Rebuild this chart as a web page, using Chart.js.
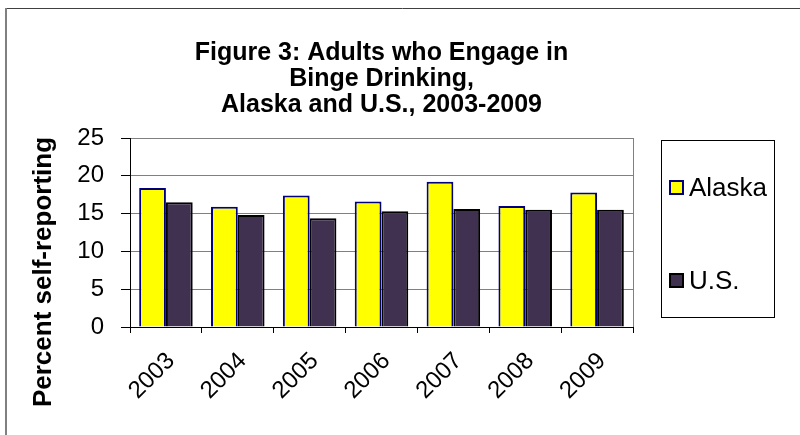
<!DOCTYPE html>
<html>
<head>
<meta charset="utf-8">
<script src="https://cdn.jsdelivr.net/npm/chart.js@4"></script>
<style>
  html, body { margin: 0; padding: 0; background: #fff; }
  #wrap { width: 800px; height: 435px; position: relative; }
</style>
</head>
<body>
<div id="wrap"><canvas id="chart"></canvas></div>
<script>
const years = ['2003', '2004', '2005', '2006', '2007', '2008', '2009'];
const alaska = [18.4, 15.9, 17.4, 16.6, 19.2, 16.0, 17.8];
const us = [16.5, 14.8, 14.4, 15.3, 15.6, 15.5, 15.5];
const yTicks = [0, 5, 10, 15, 20, 25];
const seriesNames = ['Alaska', 'U.S.'];
const titleLines = ['Figure 3: Adults who Engage in', 'Binge Drinking,', 'Alaska and U.S., 2003-2009'];
const yTitle = 'Percent self-reporting';

const FONT = "'Liberation Sans', Arial, sans-serif";
Chart.defaults.font.family = FONT;
Chart.defaults.color = '#000';

// outer frame of the original figure (only top and left edges show)
const outerFrame = {
    id: 'outerFrame',
    beforeDraw(chart) {
        const ctx = chart.ctx;
        ctx.save();
        ctx.fillStyle = '#fff';
        ctx.fillRect(0, 0, chart.width, chart.height);
        ctx.strokeStyle = '#404040';
        ctx.lineWidth = 1;
        ctx.beginPath();
        ctx.moveTo(5, 8.5);
        ctx.lineTo(chart.width, 8.5);
        ctx.stroke();
        ctx.strokeStyle = '#808080';
        ctx.lineWidth = 2;
        ctx.beginPath();
        ctx.moveTo(6, 8);
        ctx.lineTo(6, chart.height);
        ctx.stroke();
        ctx.restore();
    }
};

// right edge of the plot area
const plotFrame = {
    id: 'plotFrame',
    beforeDatasetsDraw(chart) {
        const { ctx, chartArea } = chart;
        ctx.save();
        ctx.strokeStyle = '#808080';
        ctx.lineWidth = 1;
        ctx.beginPath();
        ctx.moveTo(Math.round(chartArea.right) + 0.5, chartArea.top);
        ctx.lineTo(Math.round(chartArea.right) + 0.5, chartArea.bottom);
        ctx.stroke();
        ctx.restore();
    }
};

const axisTitle = {
    id: 'axisTitle',
    afterDraw(chart) {
        const ctx = chart.ctx;
        ctx.save();
        ctx.translate(44, 272);
        ctx.rotate(-Math.PI / 2);
        ctx.font = 'bold 26px ' + FONT;
        ctx.fillStyle = '#000';
        ctx.textAlign = 'center';
        ctx.textBaseline = 'middle';
        ctx.fillText(yTitle, 0, 0);
        ctx.restore();
    }
};

const legendBox = {
    id: 'legendBox',
    afterDraw(chart) {
        const ctx = chart.ctx;
        const rows = [187.5, 280.5];
        ctx.save();
        ctx.strokeStyle = '#000';
        ctx.lineWidth = 1;
        ctx.strokeRect(661.5, 140.5, 113, 177);
        chart.data.datasets.forEach((ds, i) => {
            const y = rows[i];
            ctx.fillStyle = ds.backgroundColor;
            ctx.fillRect(670, y - 6.5, 13, 13);
            ctx.strokeStyle = ds.borderColor;
            ctx.lineWidth = 2;
            ctx.strokeRect(670, y - 6.5, 13, 13);
            ctx.fillStyle = '#000';
            ctx.font = '26px ' + FONT;
            ctx.textBaseline = 'middle';
            ctx.textAlign = 'left';
            ctx.fillText(ds.label, 689, y + 1);
        });
        ctx.restore();
    }
};

new Chart(document.getElementById('chart'), {
    type: 'bar',
    data: {
        labels: years,
        datasets: [
            {
                label: seriesNames[0],
                data: alaska,
                backgroundColor: '#ffff00',
                borderColor: '#000080',
                borderWidth: 2
            },
            {
                label: seriesNames[1],
                data: us,
                backgroundColor: '#403151',
                borderColor: '#000000',
                borderWidth: 2
            }
        ]
    },
    options: {
        responsive: true,
        maintainAspectRatio: false,
        animation: false,
        categoryPercentage: 0.745,
        barPercentage: 1,
        layout: { padding: { left: 18, right: 167, top: 0, bottom: 0 } },
        plugins: {
            legend: { display: false },
            tooltip: { enabled: false },
            title: {
                display: true,
                fullSize: false,
                text: titleLines,
                color: '#000',
                font: { size: 25, weight: 'bold', lineHeight: 1.04 },
                padding: { top: 40, bottom: 20 }
            }
        },
        scales: {
            x: {
                grid: {
                    offset: true,
                    drawOnChartArea: false,
                    tickLength: 6,
                    color: '#000'
                },
                border: { color: '#000', width: 1 },
                ticks: {
                    font: { size: 24 },
                    color: '#000',
                    minRotation: 45,
                    maxRotation: 45,
                    autoSkip: false,
                    padding: 14,
                    labelOffset: 5
                },
                afterFit(scale) { scale.height = 108; }
            },
            y: {
                min: yTicks[0],
                max: yTicks[yTicks.length - 1],
                grid: {
                    color: '#808080',
                    tickColor: '#000',
                    tickLength: 9
                },
                border: { color: '#000', width: 1 },
                ticks: {
                    stepSize: yTicks[1] - yTicks[0],
                    font: { size: 24 },
                    color: '#000',
                    padding: 17
                },
                afterFit(scale) { scale.width = 112; }
            }
        }
    },
    plugins: [outerFrame, plotFrame, axisTitle, legendBox]
});
</script>
</body>
</html>
